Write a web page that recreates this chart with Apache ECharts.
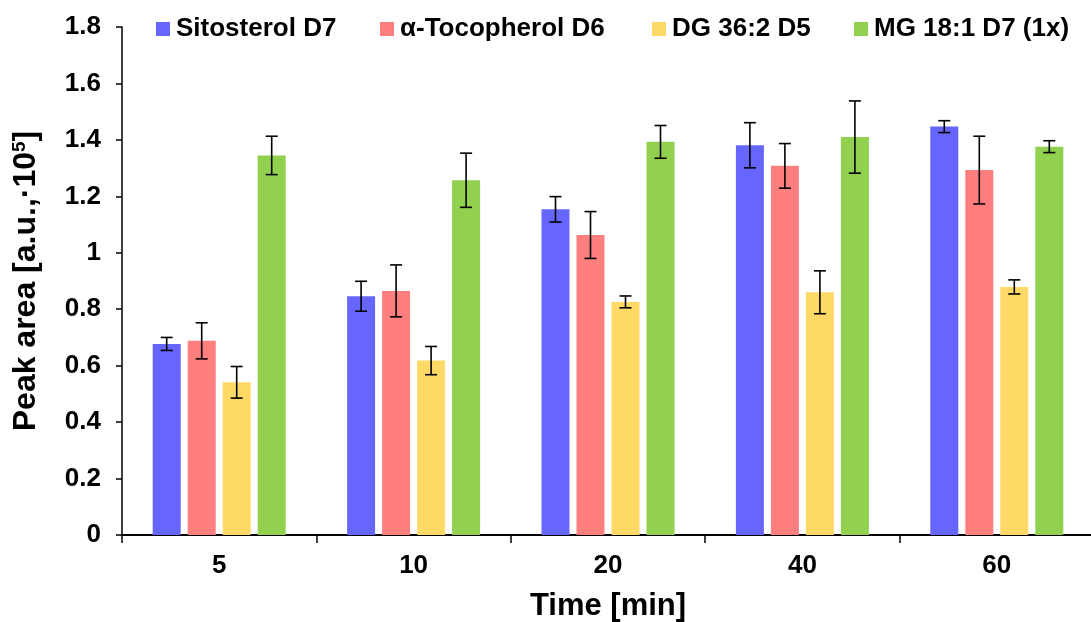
<!DOCTYPE html>
<html>
<head>
<meta charset="utf-8">
<script src="https://cdn.jsdelivr.net/npm/echarts@6/dist/echarts.min.js"></script>
<style>
  html, body { margin: 0; padding: 0; background: #fff; }
  #chart { width: 1091px; height: 622px; }
</style>
</head>
<body>
<div id="chart"></div>
<script>
// Time points (min)
const categories = ['5', '10', '20', '40', '60'];

// Series names
const seriesNames = ['Sitosterol D7', 'α-Tocopherol D6', 'DG 36:2 D5', 'MG 18:1 D7 (1x)'];

// Mean peak areas (a.u. ×10^5) and standard deviations
const sitosterol    = [0.677, 0.846, 1.154, 1.381, 1.447];
const sitosterolErr = [0.023, 0.053, 0.045, 0.080, 0.021];
const tocopherol    = [0.688, 0.865, 1.063, 1.308, 1.293];
const tocopherolErr = [0.064, 0.092, 0.083, 0.079, 0.120];
const dg            = [0.541, 0.618, 0.826, 0.860, 0.879];
const dgErr         = [0.056, 0.050, 0.021, 0.076, 0.025];
const mg            = [1.345, 1.257, 1.393, 1.410, 1.376];
const mgErr         = [0.068, 0.096, 0.058, 0.128, 0.021];

// Y-axis ticks
const yMin = 0, yMax = 1.8, yStep = 0.2;

const values = [sitosterol, tocopherol, dg, mg];
const errors = [sitosterolErr, tocopherolErr, dgErr, mgErr];
const colors = ['#6666FF', '#FF7F7F', '#FFD966', '#92D050'];

const FONT = '"Liberation Sans", Arial, sans-serif';
const BAR_W = 28;
const BAR_GAP = 7;

// Left edge of each legend entry along the top row
const legendLeft = [156, 380, 652, 854];

const chart = echarts.init(document.getElementById('chart'));

const barSeries = values.map((vals, i) => ({
  name: seriesNames[i],
  type: 'bar',
  data: vals,
  barWidth: BAR_W,
  barGap: (BAR_GAP / BAR_W * 100) + '%',
  itemStyle: { color: colors[i] },
  z: 2
}));

// Error bars: vertical whisker with caps, offset to sit over each bar
const errSeries = values.map((vals, i) => ({
  type: 'custom',
  name: seriesNames[i] + ' err',
  data: vals.map((v, k) => [k, v - errors[i][k], v + errors[i][k]]),
  z: 10,
  silent: true,
  renderItem: function (params, api) {
    const k = api.value(0);
    const lo = api.coord([k, api.value(1)]);
    const hi = api.coord([k, api.value(2)]);
    const x = lo[0] + (i - 1.5) * (BAR_W + BAR_GAP);
    const cap = 6;
    const style = { stroke: '#000', lineWidth: 1.6 };
    return {
      type: 'group',
      children: [
        { type: 'line', shape: { x1: x, y1: hi[1], x2: x, y2: lo[1] }, style },
        { type: 'line', shape: { x1: x - cap, y1: hi[1], x2: x + cap, y2: hi[1] }, style },
        { type: 'line', shape: { x1: x - cap, y1: lo[1], x2: x + cap, y2: lo[1] }, style }
      ]
    };
  }
}));

const legends = seriesNames.map((name, i) => ({
  data: [name],
  left: legendLeft[i],
  top: 16,
  padding: 0,
  itemWidth: 14,
  itemHeight: 14,
  icon: 'rect',
  textStyle: { fontFamily: FONT, fontSize: 26, fontWeight: 'bold', color: '#000', padding: [0, 0, 0, 1] }
}));

chart.setOption({
  animation: false,
  textStyle: { fontFamily: FONT },
  legend: legends,
  grid: { left: 122, right: -3, top: 27, bottom: 87, containLabel: false, outerBoundsMode: 'none' },
  xAxis: {
    type: 'category',
    data: categories,
    name: 'Time [min]',
    nameLocation: 'middle',
    nameGap: 56,
    nameTextStyle: { fontFamily: FONT, fontSize: 31, fontWeight: 'bold', color: '#000' },
    axisLine: { lineStyle: { color: '#000', width: 2 } },
    axisTick: { show: true, length: 8, lineStyle: { color: '#000', width: 1.5 } },
    axisLabel: { fontFamily: FONT, fontSize: 26, fontWeight: 'bold', color: '#000', margin: 18 }
  },
  yAxis: {
    type: 'value',
    min: yMin,
    max: yMax,
    interval: yStep,
    name: '{t|Peak area [a.u.,·10}{s|5}{t|]}',
    nameLocation: 'middle',
    nameRotate: 90,
    nameGap: 80,
    nameTextStyle: {
      rich: {
        t: { fontFamily: FONT, fontSize: 32, fontWeight: 'bold', color: '#000' },
        s: { fontFamily: FONT, fontSize: 19, fontWeight: 'bold', color: '#000', padding: [0, 0, 13, 0] }
      }
    },
    axisLine: { show: true, lineStyle: { color: '#000', width: 1.5 } },
    axisTick: { show: true, length: 6, lineStyle: { color: '#000', width: 1.5 } },
    splitLine: { show: false },
    axisLabel: { fontFamily: FONT, fontSize: 26, fontWeight: 'bold', color: '#000', margin: 21 }
  },
  series: barSeries.concat(errSeries)
});
</script>
</body>
</html>
